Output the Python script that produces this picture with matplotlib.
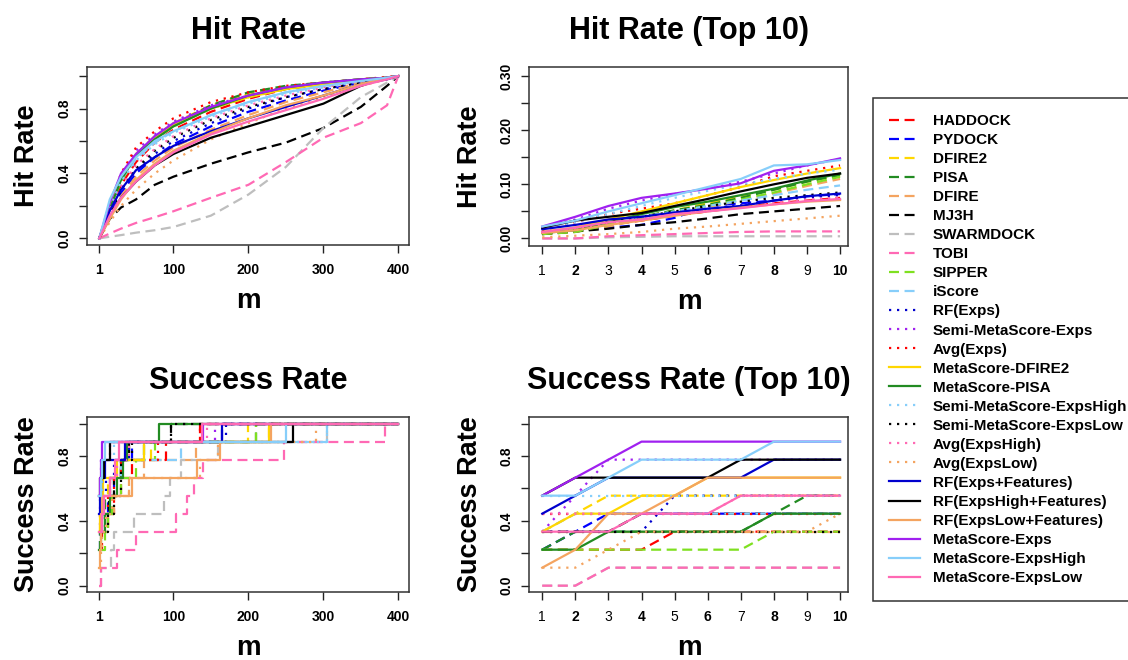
import matplotlib
matplotlib.use("Agg")
import matplotlib.pyplot as plt
from matplotlib.lines import Line2D
from matplotlib.font_manager import FontProperties

plt.rcParams["font.family"] = ["Liberation Sans", "DejaVu Sans"]

# ---------------- data ----------------
methods = ["HADDOCK", "PYDOCK", "DFIRE2", "PISA", "DFIRE", "MJ3H", "SWARMDOCK",
           "TOBI", "SIPPER", "iScore", "RF(Exps)", "Semi-MetaScore-Exps",
           "Avg(Exps)", "MetaScore-DFIRE2", "MetaScore-PISA",
           "Semi-MetaScore-ExpsHigh", "Semi-MetaScore-ExpsLow", "Avg(ExpsHigh)",
           "Avg(ExpsLow)", "RF(Exps+Features)", "RF(ExpsHigh+Features)",
           "RF(ExpsLow+Features)", "MetaScore-Exps", "MetaScore-ExpsHigh",
           "MetaScore-ExpsLow"]

colors = ["#FF0000", "#0000FF", "#FFD700", "#228B22", "#F4A460", "#000000",
          "#BEBEBE", "#FF69B4", "#7FE020", "#87CEFA", "#0000CD", "#A020F0",
          "#FF0000", "#FFD700", "#228B22", "#87CEFA", "#000000", "#FF69B4",
          "#F4A460", "#0000CD", "#000000", "#F4A460", "#A020F0", "#87CEFA",
          "#FF69B4"]

styles = ["dashed"] * 10 + ["dotted"] * 3 + ["solid"] * 2 + ["dotted"] * 4 + ["solid"] * 6

# Hit rate, m = 1..400 (values read at these m)
hit_m = [1, 15, 30, 50, 75, 100, 150, 200, 250, 300, 350, 385, 400]
hit_rate = [
    [0, 0.17, 0.33, 0.47, 0.59, 0.67, 0.78, 0.86, 0.92, 0.95, 0.98, 0.99, 1.0],   # HADDOCK
    [0, 0.15, 0.28, 0.40, 0.50, 0.58, 0.69, 0.78, 0.85, 0.91, 0.96, 0.99, 1.0],   # PYDOCK
    [0, 0.19, 0.37, 0.52, 0.63, 0.71, 0.82, 0.89, 0.93, 0.96, 0.98, 0.99, 1.0],   # DFIRE2
    [0, 0.18, 0.36, 0.51, 0.62, 0.70, 0.82, 0.90, 0.94, 0.96, 0.98, 0.99, 1.0],   # PISA
    [0, 0.13, 0.26, 0.38, 0.48, 0.56, 0.67, 0.76, 0.84, 0.90, 0.96, 0.99, 1.0],   # DFIRE
    [0, 0.12, 0.19, 0.24, 0.33, 0.38, 0.46, 0.53, 0.59, 0.68, 0.81, 0.94, 1.0],   # MJ3H
    [0, 0.01, 0.02, 0.035, 0.05, 0.07, 0.14, 0.27, 0.44, 0.68, 0.87, 0.96, 1.0],  # SWARMDOCK
    [0, 0.03, 0.06, 0.095, 0.13, 0.167, 0.25, 0.33, 0.47, 0.62, 0.71, 0.82, 1.0], # TOBI
    [0, 0.18, 0.35, 0.50, 0.61, 0.69, 0.80, 0.87, 0.92, 0.95, 0.98, 0.99, 1.0],   # SIPPER
    [0, 0.20, 0.36, 0.49, 0.59, 0.66, 0.76, 0.84, 0.90, 0.94, 0.97, 0.99, 1.0],   # iScore
    [0, 0.16, 0.30, 0.42, 0.52, 0.60, 0.71, 0.80, 0.87, 0.92, 0.96, 0.99, 1.0],   # RF(Exps)
    [0, 0.20, 0.39, 0.54, 0.64, 0.72, 0.82, 0.88, 0.93, 0.96, 0.98, 0.99, 1.0],   # Semi-MetaScore-Exps
    [0, 0.20, 0.40, 0.56, 0.66, 0.74, 0.84, 0.90, 0.94, 0.96, 0.98, 0.995, 1.0],  # Avg(Exps)
    [0, 0.19, 0.37, 0.52, 0.62, 0.70, 0.80, 0.87, 0.92, 0.95, 0.98, 0.99, 1.0],   # MetaScore-DFIRE2
    [0, 0.18, 0.36, 0.51, 0.61, 0.69, 0.80, 0.88, 0.93, 0.96, 0.98, 0.99, 1.0],   # MetaScore-PISA
    [0, 0.19, 0.35, 0.48, 0.58, 0.65, 0.75, 0.83, 0.89, 0.93, 0.97, 0.99, 1.0],   # Semi-MetaScore-ExpsHigh
    [0, 0.15, 0.30, 0.43, 0.54, 0.62, 0.73, 0.81, 0.87, 0.92, 0.96, 0.99, 1.0],   # Semi-MetaScore-ExpsLow
    [0, 0.17, 0.32, 0.45, 0.55, 0.63, 0.74, 0.82, 0.88, 0.93, 0.97, 0.99, 1.0],   # Avg(ExpsHigh)
    [0, 0.10, 0.20, 0.30, 0.40, 0.48, 0.61, 0.71, 0.80, 0.87, 0.94, 0.98, 1.0],   # Avg(ExpsLow)
    [0, 0.17, 0.30, 0.42, 0.50, 0.57, 0.66, 0.74, 0.81, 0.88, 0.95, 0.98, 1.0],   # RF(Exps+Features)
    [0, 0.13, 0.25, 0.35, 0.45, 0.52, 0.62, 0.69, 0.76, 0.83, 0.94, 0.99, 1.0],   # RF(ExpsHigh+Features)
    [0, 0.12, 0.24, 0.36, 0.46, 0.54, 0.65, 0.74, 0.82, 0.88, 0.95, 0.99, 1.0],   # RF(ExpsLow+Features)
    [0, 0.22, 0.40, 0.52, 0.63, 0.71, 0.81, 0.88, 0.93, 0.96, 0.98, 0.99, 1.0],   # MetaScore-Exps
    [0, 0.24, 0.38, 0.50, 0.60, 0.66, 0.76, 0.84, 0.90, 0.94, 0.97, 0.99, 1.0],   # MetaScore-ExpsHigh
    [0, 0.14, 0.25, 0.35, 0.45, 0.53, 0.64, 0.72, 0.79, 0.86, 0.94, 0.98, 1.0],   # MetaScore-ExpsLow
]

# Hit rate, top 10
top_m = [1, 2, 3, 4, 5, 6, 7, 8, 9, 10]
hit_rate_top10 = [
    [0.008, 0.015, 0.025, 0.033, 0.042, 0.050, 0.058, 0.065, 0.070, 0.075],  # HADDOCK
    [0.010, 0.015, 0.020, 0.025, 0.038, 0.060, 0.065, 0.070, 0.078, 0.082],  # PYDOCK
    [0.010, 0.015, 0.028, 0.040, 0.052, 0.065, 0.078, 0.090, 0.105, 0.117],  # DFIRE2
    [0.008, 0.012, 0.025, 0.040, 0.052, 0.062, 0.075, 0.090, 0.105, 0.117],  # PISA
    [0.008, 0.012, 0.022, 0.035, 0.047, 0.058, 0.070, 0.083, 0.097, 0.110],  # DFIRE
    [0.008, 0.013, 0.018, 0.025, 0.030, 0.037, 0.045, 0.050, 0.055, 0.060],  # MJ3H
    [0.000, 0.000, 0.002, 0.003, 0.004, 0.004, 0.004, 0.004, 0.004, 0.004],  # SWARMDOCK
    [0.000, 0.000, 0.004, 0.006, 0.008, 0.010, 0.012, 0.013, 0.013, 0.013],  # TOBI
    [0.008, 0.012, 0.025, 0.038, 0.050, 0.060, 0.072, 0.085, 0.100, 0.114],  # SIPPER
    [0.012, 0.020, 0.030, 0.040, 0.050, 0.060, 0.070, 0.080, 0.090, 0.098],  # iScore
    [0.010, 0.018, 0.028, 0.035, 0.045, 0.055, 0.062, 0.070, 0.076, 0.080],  # RF(Exps)
    [0.020, 0.035, 0.055, 0.070, 0.082, 0.092, 0.105, 0.120, 0.135, 0.147],  # Semi-MetaScore-Exps
    [0.015, 0.030, 0.045, 0.055, 0.065, 0.080, 0.095, 0.115, 0.125, 0.135],  # Avg(Exps)
    [0.012, 0.020, 0.035, 0.050, 0.065, 0.080, 0.095, 0.108, 0.120, 0.130],  # MetaScore-DFIRE2
    [0.010, 0.015, 0.030, 0.045, 0.058, 0.068, 0.080, 0.092, 0.107, 0.120],  # MetaScore-PISA
    [0.018, 0.030, 0.045, 0.060, 0.075, 0.088, 0.100, 0.110, 0.120, 0.127],  # Semi-MetaScore-ExpsHigh
    [0.010, 0.018, 0.030, 0.040, 0.050, 0.060, 0.068, 0.075, 0.080, 0.085],  # Semi-MetaScore-ExpsLow
    [0.010, 0.018, 0.028, 0.036, 0.045, 0.052, 0.060, 0.066, 0.072, 0.076],  # Avg(ExpsHigh)
    [0.002, 0.005, 0.008, 0.012, 0.018, 0.022, 0.027, 0.032, 0.037, 0.042],  # Avg(ExpsLow)
    [0.017, 0.025, 0.035, 0.040, 0.048, 0.055, 0.060, 0.070, 0.078, 0.083],  # RF(Exps+Features)
    [0.020, 0.033, 0.040, 0.047, 0.060, 0.073, 0.087, 0.100, 0.112, 0.120],  # RF(ExpsHigh+Features)
    [0.010, 0.015, 0.025, 0.033, 0.042, 0.050, 0.057, 0.063, 0.068, 0.071],  # RF(ExpsLow+Features)
    [0.022, 0.040, 0.060, 0.075, 0.083, 0.092, 0.102, 0.125, 0.135, 0.148],  # MetaScore-Exps
    [0.022, 0.033, 0.050, 0.065, 0.080, 0.095, 0.110, 0.135, 0.137, 0.145],  # MetaScore-ExpsHigh
    [0.012, 0.020, 0.030, 0.035, 0.045, 0.050, 0.056, 0.063, 0.069, 0.073],  # MetaScore-ExpsLow
]

# Success rate, m = 1..400: m at which the number of successful targets (of 9) changes
n_targets = 9
success_break_m = [
    [1, 5, 12, 20, 30, 45, 90, 135],          # HADDOCK
    [1, 2, 3, 12, 20, 30, 45, 165],           # PYDOCK
    [1, 2, 3, 12, 30, 70, 200],               # DFIRE2
    [1, 2, 8, 9, 15, 30, 60, 210],            # PISA
    [1, 12, 20, 40, 60, 130, 228],            # DFIRE
    [1, 4, 14, 20, 30, 40, 97],               # MJ3H
    [1, 3, 17, 20, 47, 87, 95, 110, 160, 305],  # SWARMDOCK
    [1, 3, 25, 50, 103, 118, 128, 140, 247, 382],  # TOBI
    [1, 8, 12, 18, 30, 50, 75, 210],          # SIPPER
    [1, 3, 4, 15, 30, 110, 305],              # iScore
    [1, 5, 10, 20, 40, 170],                  # RF(Exps)
    [1, 2, 3, 15, 155],                       # Semi-MetaScore-Exps
    [1, 12, 20, 30, 80, 135],                 # Avg(Exps)
    [1, 2, 4, 6, 25, 60, 228],                # MetaScore-DFIRE2
    [1, 3, 8, 15, 25, 32, 38, 81],            # MetaScore-PISA
    [1, 4, 20, 305],                          # Semi-MetaScore-ExpsHigh
    [1, 12, 20, 30, 45, 97],                  # Semi-MetaScore-ExpsLow
    [1, 7, 15, 25, 40, 145],                  # Avg(ExpsHigh)
    [1, 3, 4, 10, 18, 40, 135, 160, 290],     # Avg(ExpsLow)
    [1, 2, 3, 8, 35, 165],                    # RF(Exps+Features)
    [1, 2, 7, 15, 260],                       # RF(ExpsHigh+Features)
    [1, 2, 3, 5, 45, 131, 162, 230],          # RF(ExpsLow+Features)
    [1, 2, 3, 4, 140],                        # MetaScore-Exps
    [1, 3, 4, 8, 250],                        # MetaScore-ExpsHigh
    [1, 4, 7, 15, 22, 27, 138],               # MetaScore-ExpsLow
]
success_break_k = [
    [2, 3, 4, 5, 6, 7, 8, 9],
    [2, 3, 4, 5, 6, 7, 8, 9],
    [3, 4, 5, 6, 7, 8, 9],
    [2, 3, 4, 5, 6, 7, 8, 9],
    [3, 4, 5, 6, 7, 8, 9],
    [3, 4, 5, 6, 7, 8, 9],
    [0, 1, 2, 3, 4, 5, 6, 7, 8, 9],
    [0, 1, 2, 3, 4, 5, 6, 7, 8, 9],
    [2, 3, 4, 5, 6, 7, 8, 9],
    [3, 4, 5, 6, 7, 8, 9],
    [3, 5, 6, 7, 8, 9],
    [3, 5, 7, 8, 9],
    [4, 5, 6, 7, 8, 9],
    [3, 4, 5, 6, 7, 8, 9],
    [2, 3, 4, 5, 6, 7, 8, 9],
    [5, 7, 8, 9],
    [3, 4, 5, 7, 8, 9],
    [4, 5, 6, 7, 8, 9],
    [1, 2, 3, 4, 5, 6, 7, 8, 9],
    [4, 5, 6, 7, 8, 9],
    [5, 6, 7, 8, 9],
    [1, 2, 4, 5, 6, 7, 8, 9],
    [5, 6, 7, 8, 9],
    [5, 6, 7, 8, 9],
    [3, 4, 5, 6, 7, 8, 9],
]

# Success rate, top 10 (successful targets out of 9)
success_top10_k = [
    [2, 2, 2, 2, 3, 3, 3, 3, 3, 3],  # HADDOCK
    [2, 3, 4, 4, 4, 4, 4, 4, 4, 4],  # PYDOCK
    [3, 4, 5, 5, 5, 5, 5, 5, 5, 5],  # DFIRE2
    [2, 3, 3, 3, 3, 3, 3, 4, 5, 5],  # PISA
    [3, 3, 3, 3, 3, 3, 3, 3, 3, 3],  # DFIRE
    [3, 3, 3, 4, 4, 4, 4, 4, 4, 4],  # MJ3H
    [0, 0, 1, 1, 1, 1, 1, 1, 1, 1],  # SWARMDOCK
    [0, 0, 1, 1, 1, 1, 1, 1, 1, 1],  # TOBI
    [2, 2, 2, 2, 2, 2, 2, 3, 3, 3],  # SIPPER
    [3, 4, 4, 4, 4, 4, 4, 4, 4, 4],  # iScore
    [3, 3, 3, 3, 5, 5, 5, 5, 5, 5],  # RF(Exps)
    [3, 5, 7, 7, 7, 7, 7, 7, 7, 7],  # Semi-MetaScore-Exps
    [4, 4, 4, 4, 4, 4, 4, 4, 4, 4],  # Avg(Exps)
    [3, 4, 4, 5, 5, 6, 6, 6, 6, 6],  # MetaScore-DFIRE2
    [2, 2, 3, 3, 3, 3, 3, 4, 4, 4],  # MetaScore-PISA
    [5, 5, 5, 5, 5, 5, 5, 5, 5, 5],  # Semi-MetaScore-ExpsHigh
    [3, 3, 3, 3, 3, 3, 3, 3, 3, 3],  # Semi-MetaScore-ExpsLow
    [4, 4, 4, 4, 4, 4, 5, 5, 5, 5],  # Avg(ExpsHigh)
    [1, 1, 2, 3, 3, 3, 3, 3, 3, 4],  # Avg(ExpsLow)
    [4, 5, 6, 6, 6, 6, 6, 7, 7, 7],  # RF(Exps+Features)
    [5, 6, 6, 6, 6, 6, 7, 7, 7, 7],  # RF(ExpsHigh+Features)
    [1, 2, 4, 4, 5, 6, 6, 6, 6, 6],  # RF(ExpsLow+Features)
    [5, 6, 7, 8, 8, 8, 8, 8, 8, 8],  # MetaScore-Exps
    [5, 5, 6, 7, 7, 7, 7, 8, 8, 8],  # MetaScore-ExpsHigh
    [3, 3, 3, 4, 4, 4, 5, 5, 5, 5],  # MetaScore-ExpsLow
]

# ticks
full_xticks = [1, 100, 200, 300, 400]
full_xticklabels = ["1", "100", "200", "300", "400"]
top_xticklabels = ["1", "2", "3", "4", "5", "6", "7", "8", "9", "10"]
rate_yticks = [0.0, 0.2, 0.4, 0.6, 0.8, 1.0]
rate_yticklabels = ["0.0", "", "0.4", "", "0.8", ""]
top_hit_yticks = [0.0, 0.05, 0.10, 0.15, 0.20, 0.25, 0.30]
top_hit_yticklabels = ["0.00", "", "0.10", "", "0.20", "", "0.30"]

# ---------------- figure ----------------
W, H = 1128, 660
fig = plt.figure(figsize=(W / 100, H / 100), dpi=100)


def px_rect(l, t, r, b):
    return [l / W, 1 - b / H, (r - l) / W, (b - t) / H]


LW = 1.6
style_map = {"dashed": (0, (4.5, 2.5)), "dotted": (0, (1, 2.6)), "solid": "-"}


def style_axes(ax, xlim, ylim, xticks, xlabels, yticks, ylabels, alternate=False):
    ax.set_xlim(*xlim)
    ax.set_ylim(*ylim)
    ax.set_xticks(xticks)
    ax.set_xticklabels(xlabels)
    ax.set_yticks(yticks)
    ax.set_yticklabels(ylabels, rotation=90, va="center")
    ax.tick_params(direction="out", length=6, width=1, labelsize=10, colors="#222222")
    ax.tick_params(axis="x", pad=7, labelcolor="black")
    ax.tick_params(axis="y", pad=5, labelcolor="black")
    for lab in ax.get_yticklabels():
        lab.set_fontweight("bold")
    for i, lab in enumerate(ax.get_xticklabels()):
        if alternate:
            lab.set_fontweight("bold" if i % 2 == 1 else "normal")
        else:
            lab.set_fontweight("bold")
    for sp in ax.spines.values():
        sp.set_linewidth(1.1)
        sp.set_color("#333333")


def add_texts(cx, top, bottom, title, ylab, ylab_x):
    fig.text(cx / W, 1 - (top - 28) / H, title, ha="center", va="baseline",
             fontsize=22, fontweight="bold")
    fig.text(ylab_x / W, 1 - ((top + bottom) / 2) / H, ylab, rotation=90,
             rotation_mode="anchor", ha="center", va="baseline",
             fontsize=19.5, fontweight="bold")
    fig.text(cx / W, 1 - (bottom + 63) / H, "m", ha="center", va="baseline",
             fontsize=20, fontweight="bold")


# Panel 1: Hit Rate
ax1 = fig.add_axes(px_rect(87, 67, 409, 245))
for row, c, s in zip(hit_rate, colors, styles):
    ax1.plot(hit_m, row, color=c, linestyle=style_map[s], lw=LW)
style_axes(ax1, (-15.4, 414.3), (-0.041, 1.056), full_xticks, full_xticklabels,
           rate_yticks, rate_yticklabels)
add_texts(248, 67, 245, "Hit Rate", "Hit Rate", 34)

# Panel 2: Hit Rate (Top 10)
ax2 = fig.add_axes(px_rect(529, 67, 848, 246))
for row, c, s in zip(hit_rate_top10, colors, styles):
    ax2.plot(top_m, row, color=c, linestyle=style_map[s], lw=LW)
style_axes(ax2, (0.6, 10.24), (-0.014, 0.317), top_m, top_xticklabels,
           top_hit_yticks, top_hit_yticklabels, alternate=True)
add_texts(689, 67, 246, "Hit Rate (Top 10)", "Hit Rate", 477)

# Panel 3: Success Rate
ax3 = fig.add_axes(px_rect(87, 417, 409, 592))
for bm, bk, c, s in zip(success_break_m, success_break_k, colors, styles):
    xs = bm + [400]
    ys = [k / n_targets for k in bk] + [bk[-1] / n_targets]
    ax3.step(xs, ys, where="post", color=c, linestyle=style_map[s], lw=LW)
style_axes(ax3, (-15.4, 414.3), (-0.039, 1.041), full_xticks, full_xticklabels,
           rate_yticks, rate_yticklabels)
add_texts(248, 417, 592, "Success Rate", "Success Rate", 34)

# Panel 4: Success Rate (Top 10)
ax4 = fig.add_axes(px_rect(529, 417, 848, 592))
for row, c, s in zip(success_top10_k, colors, styles):
    ax4.plot(top_m, [k / n_targets for k in row], color=c, linestyle=style_map[s], lw=LW)
style_axes(ax4, (0.6, 10.24), (-0.039, 1.041), top_m, top_xticklabels,
           rate_yticks, rate_yticklabels, alternate=True)
add_texts(689, 417, 592, "Success Rate (Top 10)", "Success Rate", 477)

# Legend
handles = [Line2D([], [], color=c, linestyle=style_map[s], lw=LW)
           for c, s in zip(colors, styles)]
leg = fig.legend(handles, methods, loc="upper left",
                 bbox_to_anchor=(873 / W, 1 - 98 / H), borderaxespad=0,
                 frameon=True, fancybox=False, edgecolor="#333333", framealpha=1,
                 prop=FontProperties(family=["Liberation Sans", "DejaVu Sans"],
                                     weight="bold", size=11),
                 handlelength=2.0, handletextpad=0.85, labelspacing=0.33,
                 borderpad=1.05)
leg.get_frame().set_linewidth(1.1)

fig.savefig("out.png", dpi=100)
